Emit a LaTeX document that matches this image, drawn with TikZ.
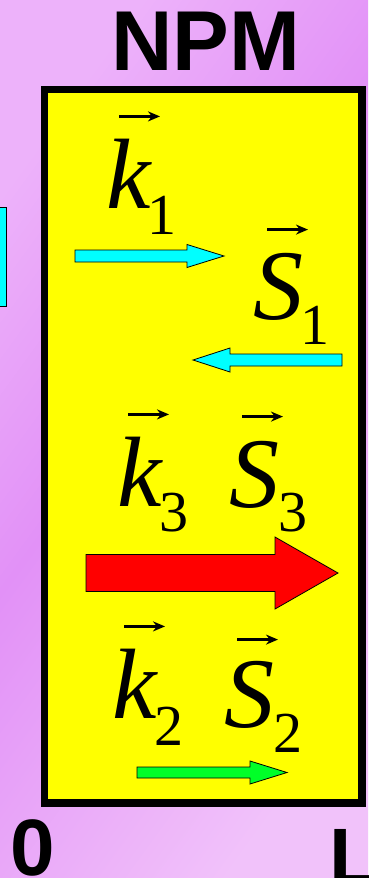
\documentclass[tikz,border=0pt]{standalone}
\usepackage{fontspec}
\setmainfont{Liberation Serif}
\newfontfamily\labelsans{Liberation Sans}
\usetikzlibrary{arrows.meta,positioning}
\definecolor{bglight}{RGB}{237,178,250}
\definecolor{bgdark}{RGB}{226,145,247}
\definecolor{bgpale}{RGB}{241,194,250}
\definecolor{cellyellow}{RGB}{255,255,0}
\definecolor{beamcyan}{RGB}{0,255,255}
\definecolor{beamred}{RGB}{255,0,0}
\definecolor{beamgreen}{RGB}{0,255,40}
\pgfdeclarehorizontalshading{bgshade}{100bp}{color(0bp)=(bglight); color(25bp)=(bglight); color(45bp)=(bgdark); color(75bp)=(bgpale); color(100bp)=(bgpale)}
% tail, head base, tip, centre y, half shaft, half head, colour
\newcommand{\blockarrow}[7]{%
  \filldraw[fill=#7, draw=black, line width=0.8pt] (#1,#4-#5) -- (#2,#4-#5) -- (#2,#4-#6) -- (#3,#4) -- (#2,#4+#6) -- (#2,#4+#5) -- (#1,#4+#5) -- cycle;}

\begin{document}
\begin{tikzpicture}[x=1pt, y=-1pt,
  title/.style={font=\labelsans\bfseries\fontsize{85}{85}\selectfont, inner sep=0pt},
  letter/.style={font=\itshape\fontsize{100}{100}\selectfont, inner sep=0pt, anchor=base west},
  subs/.style={font=\fontsize{58}{58}\selectfont, inner sep=0pt, anchor=base west},
  vecarrow/.style={line width=2.4pt, -{Stealth[length=12pt,width=10pt]}}]
  \useasboundingbox (0,0) rectangle (368,878);
  \clip (0,0) rectangle (368,878);
  \shade[shading=bgshade, shading angle=-36] (0,0) rectangle (368,878);
  % piece of the neighbouring sketch
  \filldraw[fill=beamcyan, draw=black, line width=0.8pt] (-5,207) rectangle (6.5,306);
  \node[title, anchor=base] (npm) at (206,70) {NPM};
  \draw[line width=7.8pt, fill=cellyellow] (44.5,89.5) rectangle (362,803);
  % wave vectors and Poynting vectors
  \node[letter] (k1) at (106,208) {k};
  \node[subs] (k1i) at ([shift={(-3,26)}]k1.base east) {1};
  \draw[vecarrow] ([shift={(13,-22)}]k1.north west) -- ++(41,0);
  \node[letter] (s1) at (253,319) {S};
  \node[subs] (s1i) at ([shift={(-3,25)}]s1.base east) {1};
  \draw[vecarrow] ([shift={(14,-23)}]s1.north west) -- ++(41,0);
  \node[letter] (k3) at (117,506) {k};
  \node[subs] (k3i) at ([shift={(-2,25)}]k3.base east) {3};
  \draw[vecarrow] ([shift={(11,-22)}]k3.north west) -- ++(41,0);
  \node[letter] (s3) at (229,507) {S};
  \node[subs] (s3i) at ([shift={(-1,24)}]s3.base east) {3};
  \draw[vecarrow] ([shift={(13,-24)}]s3.north west) -- ++(41,0);
  \node[letter] (k2) at (112,718) {k};
  \node[subs] (k2i) at ([shift={(-2,27)}]k2.base east) {2};
  \draw[vecarrow] ([shift={(12,-22)}]k2.north west) -- ++(41,0);
  \node[letter] (s2) at (224,727) {S};
  \node[subs] (s2i) at ([shift={(-1,25)}]s2.base east) {2};
  \draw[vecarrow] ([shift={(13,-21)}]s2.north west) -- ++(41,0);
  % beams
  \blockarrow{75}{187}{224}{256}{6}{11.5}{beamcyan}
  \blockarrow{342}{230}{193}{360}{6}{12}{beamcyan}
  \blockarrow{86}{275}{338}{573}{18.5}{36}{beamred}
  \blockarrow{137}{250}{287}{772.5}{5.5}{11.5}{beamgreen}
  % ends of the crystal
  \node[title, font=\labelsans\bfseries\fontsize{80}{80}\selectfont, anchor=base] (x0) at (32.5,875) {0};
  \node[title, font=\labelsans\bfseries\fontsize{80}{80}\selectfont, anchor=base west] (xl) at (329,884) {L};
\end{tikzpicture}
\end{document}
